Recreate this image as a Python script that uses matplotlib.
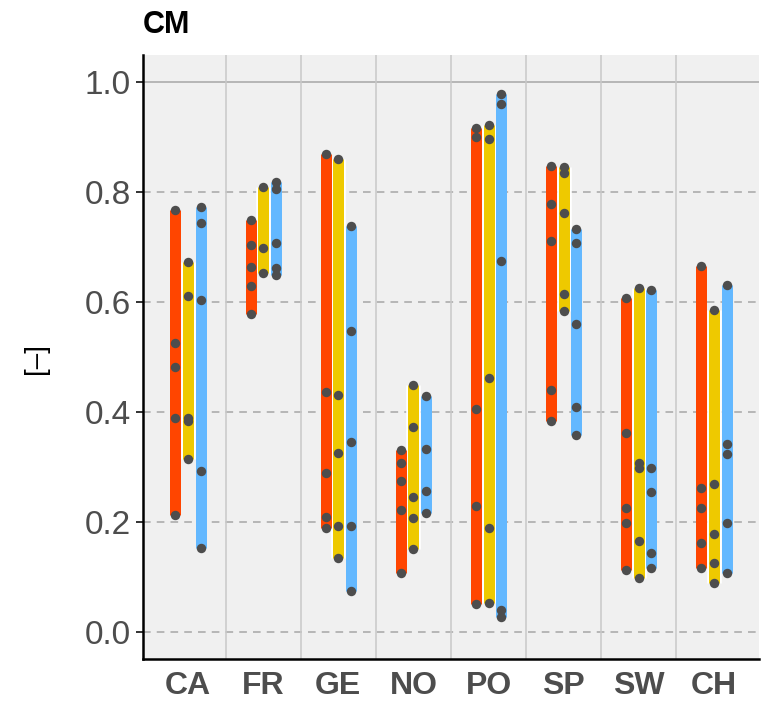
import matplotlib
matplotlib.use("Agg")
import matplotlib.pyplot as plt
import numpy as np

categories = ["CA", "FR", "GE", "NO", "PO", "SP", "SW", "CH"]
series_colors = ["#FF4500", "#EEC900", "#63B8FF"]

# values per category: [red, yellow, blue]
red_vals = [
    [0.767, 0.525, 0.482, 0.390, 0.213],
    [0.749, 0.703, 0.664, 0.629, 0.578],
    [0.869, 0.436, 0.289, 0.210, 0.190],
    [0.331, 0.307, 0.275, 0.222, 0.108],
    [0.916, 0.900, 0.406, 0.229, 0.051],
    [0.847, 0.778, 0.710, 0.440, 0.383],
    [0.607, 0.361, 0.225, 0.199, 0.113],
    [0.666, 0.261, 0.225, 0.161, 0.116],
]
yellow_vals = [
    [0.672, 0.611, 0.389, 0.384, 0.314],
    [0.809, 0.699, 0.652],
    [0.860, 0.431, 0.326, 0.192, 0.135],
    [0.450, 0.373, 0.245, 0.207, 0.151],
    [0.921, 0.896, 0.462, 0.190, 0.053],
    [0.845, 0.834, 0.761, 0.615, 0.584],
    [0.626, 0.308, 0.299, 0.166, 0.099],
    [0.585, 0.270, 0.179, 0.125, 0.090],
]
blue_vals = [
    [0.772, 0.743, 0.604, 0.293, 0.153],
    [0.819, 0.806, 0.707, 0.661, 0.649],
    [0.739, 0.548, 0.346, 0.193, 0.074],
    [0.430, 0.332, 0.257, 0.217],
    [0.978, 0.960, 0.675, 0.040, 0.028],
    [0.733, 0.707, 0.560, 0.410, 0.359],
    [0.621, 0.298, 0.255, 0.144, 0.117],
    [0.630, 0.342, 0.324, 0.198, 0.108],
]
series = [red_vals, yellow_vals, blue_vals]
y_ticks = [0.0, 0.2, 0.4, 0.6, 0.8, 1.0]
y_ticklabels = ["0.0", "0.2", "0.4", "0.6", "0.8", "1.0"]

plt.rcParams['font.family'] = ['Liberation Sans', 'DejaVu Sans']

fig = plt.figure(figsize=(7.61, 7.15), dpi=100)
ax = fig.add_axes([143/761, 1-659/715, (759-143)/761, (659-55)/715])
ax.set_facecolor("#F0F0F0")

x = np.arange(1, len(categories) + 1)
ax.set_xlim(0.4, 8.6)
ax.set_ylim(-0.049, 1.049)

# grid
for yv in y_ticks[:-1]:
    ax.axhline(yv, color="#A6A6A6", lw=1.1, ls=(0, (5, 4)), zorder=1)
ax.axhline(1.0, color="#A6A6A6", lw=1.1, zorder=1)
for xv in x[:-1] + 0.5:
    ax.axvline(xv, color="#C8C8C8", lw=1.1, zorder=1)

offsets = [-0.168, 0.0, 0.168]
bar_lw = 11 * 0.72
draw_order = [0, 2, 1]
for s in draw_order:
    vals, col, off = series[s], series_colors[s], offsets[s]
    for i, v in enumerate(vals):
        lo, hi = min(v), max(v)
        xi = x[i] + off
        if s == 1:
            ax.vlines(xi, lo, hi, color="white", lw=bar_lw + 2.6, capstyle="butt", zorder=4)
        ax.vlines(xi, lo, hi, color=col, lw=bar_lw, capstyle="butt", zorder=5)
for s in range(3):
    vals, off = series[s], offsets[s]
    for i, v in enumerate(vals):
        xi = x[i] + off
        ax.plot([xi] * len(v), v, "o", color="#4D4D4D", ms=6.8, mec="none", zorder=10)

ax.set_xticks(x)
ax.set_xticklabels(categories, fontsize=23, fontweight="bold", color="#4D4D4D")
ax.set_yticks(y_ticks)
ax.set_yticklabels(y_ticklabels, fontsize=24, color="#4D4D4D")
ax.tick_params(axis="x", length=0, pad=9)
ax.tick_params(axis="y", length=5, width=1.4, color="#333333", pad=4)

for sp in ["top", "right"]:
    ax.spines[sp].set_visible(False)
for sp in ["left", "bottom"]:
    ax.spines[sp].set_linewidth(1.8)
    ax.spines[sp].set_color("black")

fig.text(36/761, 1-358/715, "[\u2013]", fontsize=20, rotation=90, ha="center", va="center", color="black")
fig.text(143/761, 1-25/715, "CM", fontsize=22, fontweight="bold", ha="left", va="center")

fig.savefig("out.png", dpi=100)
